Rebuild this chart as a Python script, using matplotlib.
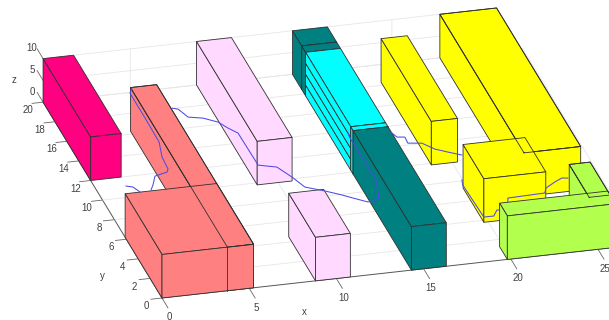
import numpy as np
import matplotlib
matplotlib.use('Agg')
import matplotlib.pyplot as plt
from mpl_toolkits.mplot3d import proj3d
from mpl_toolkits.mplot3d.art3d import Poly3DCollection

plt.rcParams['font.family'] = ['Liberation Sans', 'DejaVu Sans']

# boxes, back to front
box_x0 = [0.0, 14.3, 14.3, 14.3, 14.3, 14.3, 14.3, 14.3, 14.3, 8.8, 8.8, 3.75, 0.0, 22.75, 18.8, 19.75, 24.8, 19.8]
box_x1 = [1.75, 16.3, 16.3, 16.3, 16.3, 16.3, 16.3, 16.3, 16.3, 10.8, 10.8, 5.25, 5.25, 26.0, 20.3, 23.3, 26.0, 26.0]
box_y0 = [12.0, 18.45, 17.8, 10.2, 10.2, 10.2, 10.2, 9.8, 0.0, 9.8, 0.0, 0.0, 0.0, 5.85, 9.85, 3.8, 0.9, 0.0]
box_y1 = [20.0, 20.0, 18.45, 17.8, 17.8, 17.8, 17.8, 10.2, 9.8, 20.0, 4.5, 16.3, 6.2, 20.0, 18.3, 7.3, 4.26, 1.3]
box_z0 = [0.0, 0.0, 0.0, 0.0, 2.5, 5.0, 7.5, 0.0, 0.0, 0.0, 0.0, 0.0, 0.0, 0.0, 0.0, 0.0, 0.0, 0.0]
box_z1 = [10.0, 10.0, 10.0, 2.5, 5.0, 7.5, 10.0, 10.0, 10.0, 10.0, 10.0, 10.0, 10.0, 10.0, 10.0, 10.0, 10.0, 10.0]
box_c = ['#ff0080', '#008080', '#008080', '#00ffff', '#00ffff', '#00ffff', '#00ffff', '#00ffff', '#008080',
         '#ffd9ff', '#ffd9ff', '#ff8080', '#ff8080', '#ffff00', '#ffff00', '#ffff00', '#b3ff4d', '#b3ff4d']

# route, one list per visible stretch
route_x = [
    [3.81, 3.54, 3.54, 3.51, 3.18, 3.11, 2.96, 2.18, 1.78, 1.51],
    [0.30, 0.64, 0.86],
    [5.31, 5.60, 5.74, 5.88, 6.65, 7.33, 7.66, 8.04, 8.07, 8.07, 9.02, 9.50, 9.87, 10.82, 11.60, 12.09, 12.77, 13.46, 13.80, 13.92, 13.89, 13.94],
    [16.28, 16.44, 16.87, 16.83, 17.58, 18.09, 18.69, 19.34],
    [18.53, 18.41, 18.50, 19.07, 19.43, 19.54],
    [20.28, 20.41, 22.56, 22.78, 23.45, 23.96, 24.28],
]
route_y = [
    [16.23, 15.77, 13.22, 10.78, 9.32, 8.11, 7.83, 7.57, 6.74, 6.28],
    [6.93, 6.76, 6.20],
    [13.89, 13.73, 13.30, 12.86, 12.60, 12.06, 11.39, 10.80, 8.04, 7.52, 7.13, 6.02, 4.92, 4.33, 3.77, 3.36, 2.82, 2.98, 4.34, 5.04, 9.12, 9.62],
    [9.26, 8.72, 8.63, 8.02, 7.87, 7.16, 6.74, 6.31],
    [3.92, 3.43, 0.14, 0.13, 0.67, 0.65],
    [1.32, 1.70, 1.79, 2.25, 2.73, 3.04, 2.97],
]
route_z = 10.0

x_ticks = [0, 5, 10, 15, 20, 25]
y_ticks = [0, 2, 4, 6, 8, 10, 12, 14, 16, 18, 20]
z_ticks = [0, 5, 10]
x_max, y_max, z_max = 27.5, 20, 10
wall_end = 26.0

edge = '#303030'
grid_c = '#e6e6e6'
text_c = '#404040'
tick_c = '#666666'


def box(x0, x1, y0, y1, z0, z1, color, zo, lw=0.6):
    left = [(x0, y0, z0), (x0, y1, z0), (x0, y1, z1), (x0, y0, z1)]
    front = [(x0, y0, z0), (x1, y0, z0), (x1, y0, z1), (x0, y0, z1)]
    top = [(x0, y0, z1), (x1, y0, z1), (x1, y1, z1), (x0, y1, z1)]
    p = Poly3DCollection([left, front, top], facecolors=color, edgecolors=edge, linewidths=lw, zorder=zo)
    ax.add_collection3d(p)


def outline(x0, x1, y0, y1, z1, zo):
    ax.plot([x0, x1, x1, x0, x0], [y0, y0, y1, y1, y0], [z1] * 5, color=edge, lw=0.6, zorder=zo)


fig = plt.figure(figsize=(6.09, 3.20), dpi=100)
ax = fig.add_axes([0, 0, 1, 609 / 320], projection='3d', proj_type='ortho', computed_zorder=False)
ax.set_box_aspect((x_max * 18.03, y_max * 23.6, z_max * 4.82))
ax.view_init(elev=25.4, azim=255.4)
ax.set_xlim(0, x_max, view_margin=0)
ax.set_ylim(0, y_max, view_margin=0)
ax.set_zlim(0, z_max, view_margin=0)
ax.patch.set_alpha(0)

# grid on floor and back wall only
for t in x_ticks[1:]:
    ax.plot([t, t, t], [0, y_max, y_max], [0, 0, z_max], color=grid_c, lw=0.6, zorder=1)
for t in y_ticks[1:]:
    ax.plot([0, x_max], [t, t], [0, 0], color=grid_c, lw=0.6, zorder=1)
for t in z_ticks:
    ax.plot([0, wall_end], [y_max, y_max], [t, t], color=grid_c, lw=0.6, zorder=1)
ax.plot([x_max, x_max], [0, y_max], [0, 0], color=grid_c, lw=0.6, zorder=1)

# tick marks point away from the box the way the picture has them
for t in x_ticks:
    ax.plot([t, t], [0, -1.0], [0, 0], color=tick_c, lw=0.6, zorder=2)
for t in y_ticks:
    ax.plot([0, -0.63], [t, t], [0, 0], color=tick_c, lw=0.6, zorder=2)
for t in z_ticks:
    ax.plot([0, 0], [y_max, y_max + 1.0], [t, t], color=tick_c, lw=0.6, zorder=2)

for i in range(len(box_x0)):
    box(box_x0[i], box_x1[i], box_y0[i], box_y1[i], box_z0[i], box_z1[i], box_c[i], 10 + i)

# coplanar tops that show through the block in front
outline(3.75, 5.25, 0.0, 16.3, 10.0, 40)
outline(22.75, 26.0, 5.85, 20.0, 10.0, 40)
outline(24.8, 26.0, 0.9, 4.26, 10.0, 40)
ax.plot([3.75, 3.75], [0, 0], [0, 10], color=edge, lw=0.6, zorder=41)

for rx, ry in zip(route_x, route_y):
    ax.plot(rx, ry, [route_z] * len(rx), color='#4b4be6', lw=0.75, zorder=50)

ax.set_xticks(x_ticks)
ax.set_yticks(y_ticks)
ax.set_zticks(z_ticks)
ax.grid(False)
ax.tick_params(axis='x', labelsize=7, colors=text_c, pad=7)
ax.tick_params(axis='y', labelsize=7, colors=text_c, pad=0)
for tick in ax.zaxis.get_major_ticks():
    tick.label1.set_visible(False)
    tick.label2.set_visible(False)
for t in z_ticks:
    ax.text(-0.25, 21.12, t, str(t), fontsize=7, color=text_c, ha='center', va='center')
ax.text(7.21, -2.87, 0, 'x', fontsize=7, color=text_c, ha='center', va='center')
ax.text(-2.5, 2.74, 0, 'y', fontsize=7, color=text_c, ha='center', va='center')
ax.text(-1.55, 20.33, 5, 'z', fontsize=7, color=text_c, ha='center', va='center', rotation=90)
for a in (ax.xaxis, ax.yaxis, ax.zaxis):
    a.set_pane_color((1, 1, 1, 0))
    a.pane.set_edgecolor((1, 1, 1, 0))
    a.line.set_color('#555555')
    a.line.set_linewidth(0.7)
    a.label.set_visible(False)
    a._axinfo['tick']['inward_factor'] = 0.0
    a._axinfo['tick']['outward_factor'] = 0.0

# fit the axes box so x axis lands where it is in the picture
W, H = 609, 320
fig.canvas.draw()


def to_px(x, y, z):
    X, Y, _ = proj3d.proj_transform(x, y, z, ax.get_proj())
    return ax.transData.transform((X, Y))


bb = ax.get_position()
l0, b0, s0 = bb.x0 * W, bb.y0 * H, bb.width * W
p0 = to_px(0, 0, 0)
p1 = to_px(25, 0, 0)
s1 = s0 * np.hypot(598 - 162, 298 - 249) / np.hypot(*(p1 - p0))
l1 = 162 - (p0[0] - l0) * s1 / s0
b1 = (H - 298) - (p0[1] - b0) * s1 / s0
ax.set_position([l1 / W, b1 / H, s1 / W, s1 / H])

fig.savefig('out.png', dpi=100, facecolor='white')
plt.close()
